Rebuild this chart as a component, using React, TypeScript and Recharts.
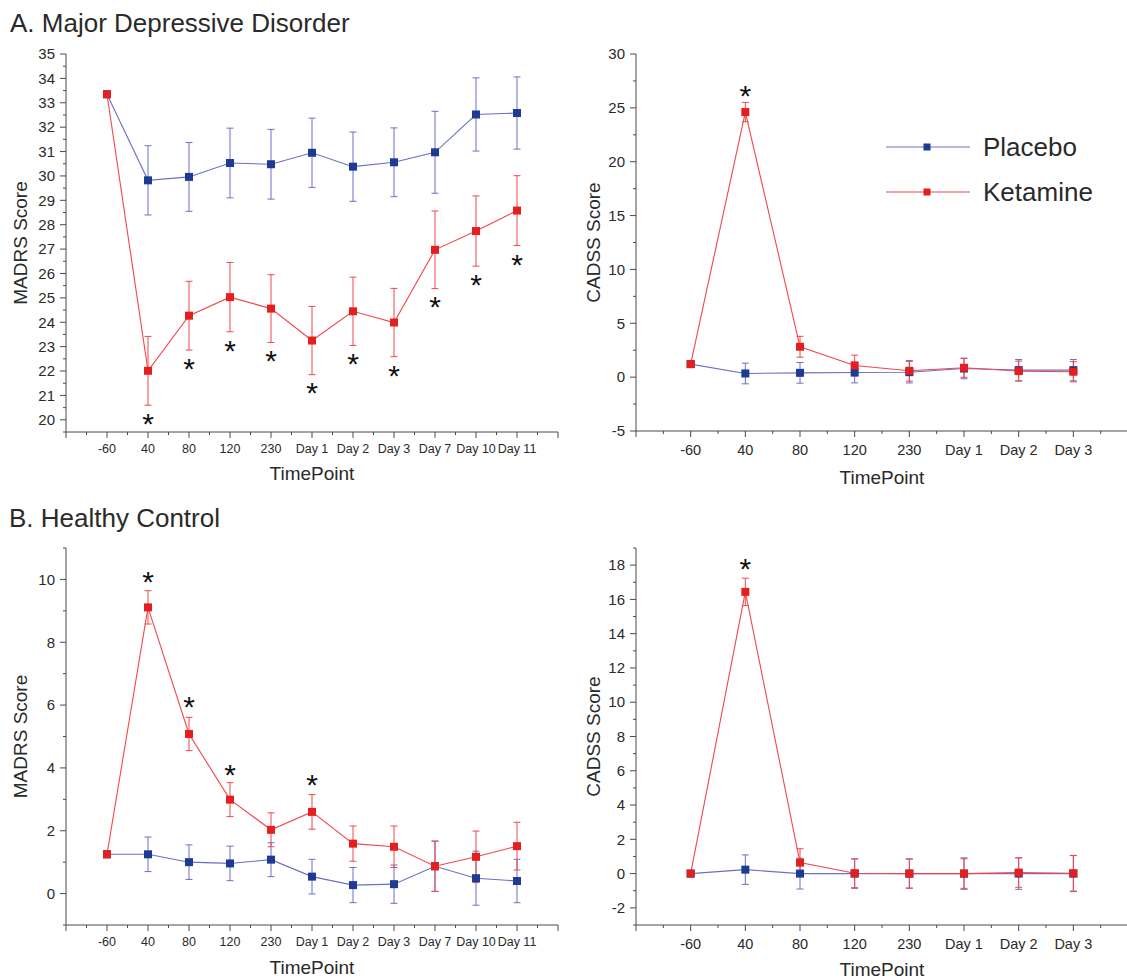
import React from 'react'
import { LineChart, Line, XAxis, YAxis, ErrorBar, Legend } from 'recharts'

const FONT = '"Liberation Sans", Arial, Helvetica, sans-serif'
const AXIS = '#4a4a4a'
const TEXT = '#2a2a2a'
const BLUE_LINE = '#6a70c8'
const BLUE_DOT = '#1f3a92'
const RED_LINE = '#f2474c'
const RED_DOT = '#e3201f'

const TIMEPOINTS_LONG = ['-60', '40', '80', '120', '230', 'Day 1', 'Day 2', 'Day 3', 'Day 7', 'Day 10', 'Day 11']
const TIMEPOINTS_SHORT = ['-60', '40', '80', '120', '230', 'Day 1', 'Day 2', 'Day 3']

// A. Major Depressive Disorder - MADRS
const mddMadrsPlacebo = [33.35, 29.82, 29.96, 30.53, 30.48, 30.95, 30.38, 30.56, 30.97, 32.52, 32.58]
const mddMadrsPlaceboErr = [0, 1.42, 1.41, 1.43, 1.43, 1.42, 1.42, 1.41, 1.68, 1.5, 1.48]
const mddMadrsKetamine = [33.35, 22.01, 24.27, 25.03, 24.56, 23.25, 24.45, 23.99, 26.97, 27.74, 28.58]
const mddMadrsKetamineErr = [0, 1.41, 1.41, 1.42, 1.39, 1.4, 1.4, 1.4, 1.59, 1.44, 1.43]
const mddMadrsStars = [null, 20.12, 22.38, 23.1, 22.7, 21.37, 22.56, 22.08, 24.9, 25.8, 26.64]

// A. Major Depressive Disorder - CADSS
const mddCadssPlacebo = [1.21, 0.34, 0.4, 0.43, 0.46, 0.8, 0.65, 0.65]
const mddCadssPlaceboErr = [0, 0.96, 0.96, 0.96, 1.0, 0.95, 0.99, 0.99]
const mddCadssKetamine = [1.21, 24.61, 2.82, 1.08, 0.59, 0.87, 0.56, 0.5]
const mddCadssKetamineErr = [0, 0.9, 0.97, 0.96, 0.96, 0.88, 0.93, 0.94]
const mddCadssStars = [null, 26.72, null, null, null, null, null, null]

// B. Healthy Control - MADRS
const hcMadrsPlacebo = [1.25, 1.25, 1.0, 0.96, 1.08, 0.54, 0.27, 0.3, 0.87, 0.49, 0.4]
const hcMadrsPlaceboErr = [0, 0.55, 0.55, 0.55, 0.54, 0.55, 0.56, 0.61, 0.8, 0.86, 0.69]
const hcMadrsKetamine = [1.25, 9.11, 5.08, 2.99, 2.03, 2.6, 1.59, 1.49, 0.87, 1.17, 1.51]
const hcMadrsKetamineErr = [0, 0.53, 0.53, 0.54, 0.54, 0.55, 0.56, 0.66, 0.8, 0.82, 0.76]
const hcMadrsStars = [null, 10.14, 6.16, 4.0, null, 3.69, null, null, null, null, null]

// B. Healthy Control - CADSS
const hcCadssPlacebo = [0, 0.23, 0, 0, 0, 0, 0, 0]
const hcCadssPlaceboErr = [0, 0.86, 0.9, 0.86, 0.86, 0.92, 0.92, 1.05]
const hcCadssKetamine = [0, 16.44, 0.64, 0.02, 0, 0, 0.06, 0.02]
const hcCadssKetamineErr = [0, 0.8, 0.81, 0.84, 0.84, 0.86, 0.86, 1.04]
const hcCadssStars = [null, 18.2, null, null, null, null, null, null]

const SERIES = [
  { key: 'placebo', name: 'Placebo', line: BLUE_LINE, dot: BLUE_DOT },
  { key: 'ketamine', name: 'Ketamine', line: RED_LINE, dot: RED_DOT },
]

const steps = (lo: number, hi: number, step: number) => {
  const out: number[] = []
  for (let k = 0; lo + k * step <= hi + 1e-9; k++) out.push(+(lo + k * step).toFixed(4))
  return out
}

const isMult = (v: number, step: number) => Math.abs(v / step - Math.round(v / step)) < 1e-6

function XTick(props: any) {
  const { x, y, payload, labels, fontSize, labelDy } = props
  const v = payload.value
  const major = isMult(v, 1)
  const label = major ? labels[Math.round(v)] : undefined
  return (
    <g>
      <line x1={x} y1={y} x2={x} y2={y + (major ? 6 : 3)} stroke={AXIS} strokeWidth={1} />
      {label !== undefined && (
        <text x={x} y={y + labelDy} textAnchor="middle" fontSize={fontSize} fill={TEXT} fontFamily={FONT}>
          {label}
        </text>
      )}
    </g>
  )
}

function YTick(props: any) {
  const { x, y, payload, major } = props
  const v = payload.value
  const isMajor = isMult(v, major)
  return (
    <g>
      <line x1={x - (isMajor ? 6 : 3)} y1={y} x2={x} y2={y} stroke={AXIS} strokeWidth={1} />
      {isMajor && (
        <text x={x - 11} y={y} dy="0.35em" textAnchor="end" fontSize={15} fill={TEXT} fontFamily={FONT}>
          {v}
        </text>
      )}
    </g>
  )
}

const squareDot = (color: string) => (p: any) => {
  const { cx, cy, index } = p
  if (cx == null || cy == null) return <g key={index} />
  return <rect key={index} x={cx - 4} y={cy - 4} width={8} height={8} fill={color} />
}

const starDot = (p: any) => {
  const { cx, cy, index, value } = p
  if (cy == null || value == null) return <g key={index} />
  return (
    <text key={index} x={cx} y={cy + 17} textAnchor="middle" fontSize={30} fill="#111" fontFamily={FONT}>
      *
    </text>
  )
}

function LegendBox() {
  return (
    <div style={{ fontFamily: FONT }}>
      {SERIES.map(s => (
        <div key={s.key} style={{ display: 'flex', alignItems: 'center', height: 45 }}>
          <svg width={84} height={12}>
            <line x1={0} y1={6} x2={84} y2={6} stroke={s.line} strokeWidth={1.2} />
            <rect x={37.5} y={2.5} width={7} height={7} fill={s.dot} />
          </svg>
          <span style={{ marginLeft: 13, fontSize: 26, color: TEXT, lineHeight: 1 }}>{s.name}</span>
        </div>
      ))}
    </div>
  )
}

interface PanelProps {
  left: number
  top: number
  width: number
  height: number
  margin: { top: number; right: number; bottom: number; left: number }
  xAxisHeight: number
  categories: string[]
  placebo: number[]
  placeboErr: number[]
  ketamine: number[]
  ketamineErr: number[]
  stars: (number | null)[]
  yLabel: string
  yDomain: [number, number]
  yMajor: number
  yMinor: number
  xFont: number
  xLabelDy: number
  xTitleOffset: number
  yTitleOffset: number
  legend?: boolean
}

function Panel(p: PanelProps) {
  const data = p.categories.map((c, i) => ({
    i,
    label: c,
    placebo: p.placebo[i],
    placeboErr: p.placeboErr[i],
    ketamine: p.ketamine[i],
    ketamineErr: p.ketamineErr[i],
    star: p.stars[i],
  }))
  const n = p.categories.length
  return (
    <div style={{ position: 'absolute', left: p.left, top: p.top }}>
      <LineChart width={p.width} height={p.height} data={data} margin={p.margin}>
        <XAxis
          type="number"
          dataKey="i"
          domain={[-1, n]}
          ticks={steps(-1, n, 0.5)}
          allowDataOverflow
          interval={0}
          height={p.xAxisHeight}
          tickSize={0}
          tickMargin={0}
          tickLine={false}
          axisLine={{ stroke: AXIS, strokeWidth: 1 }}
          tick={(t: any) => <XTick {...t} labels={p.categories} fontSize={p.xFont} labelDy={p.xLabelDy} />}
          label={{
            value: 'TimePoint',
            position: 'insideBottom',
            offset: p.xTitleOffset,
            fontSize: 19,
            fill: TEXT,
            fontFamily: FONT,
          }}
        />
        <YAxis
          type="number"
          domain={p.yDomain}
          ticks={steps(p.yDomain[0], p.yDomain[1], p.yMinor)}
          allowDataOverflow
          interval={0}
          width={66}
          tickSize={0}
          tickMargin={0}
          tickLine={false}
          axisLine={{ stroke: AXIS, strokeWidth: 1 }}
          tick={(t: any) => <YTick {...t} major={p.yMajor} />}
          label={{
            value: p.yLabel,
            angle: -90,
            position: 'insideLeft',
            offset: p.yTitleOffset,
            fontSize: 19,
            fill: TEXT,
            fontFamily: FONT,
            style: { textAnchor: 'middle' },
          }}
        />
        {p.legend && (
          <Legend
            layout="vertical"
            align="center"
            verticalAlign="middle"
            wrapperStyle={{ left: 316, top: 124, width: 240 }}
            content={() => <LegendBox />}
          />
        )}
        {SERIES.map(s => (
          <Line
            key={s.key}
            type="linear"
            dataKey={s.key}
            name={s.name}
            stroke={s.line}
            strokeWidth={1.1}
            dot={squareDot(s.dot)}
            activeDot={false}
            isAnimationActive={false}
          >
            <ErrorBar dataKey={`${s.key}Err`} direction="y" width={3.5} stroke={s.line} strokeWidth={1} />
          </Line>
        ))}
        <Line
          dataKey="star"
          stroke="none"
          legendType="none"
          dot={starDot}
          activeDot={false}
          isAnimationActive={false}
        />
      </LineChart>
    </div>
  )
}

export default function App() {
  return (
    <div
      style={{
        position: 'absolute',
        left: 0,
        top: 0,
        width: 1127,
        height: 980,
        overflow: 'hidden',
        background: '#fff',
        fontFamily: FONT,
      }}
    >
      <svg width={1127} height={980} style={{ position: 'absolute', left: 0, top: 0 }}>
        <text x={10} y={32} fontSize={26} fill={TEXT} fontFamily={FONT}>A. Major Depressive Disorder</text>
        <text x={9} y={527} fontSize={26} fill={TEXT} fontFamily={FONT}>B. Healthy Control</text>
      </svg>
      <Panel
        left={0} top={0} width={570} height={500}
        margin={{ top: 54, right: 12, bottom: 8, left: 0 }}
        xAxisHeight={60}
        categories={TIMEPOINTS_LONG}
        placebo={mddMadrsPlacebo} placeboErr={mddMadrsPlaceboErr}
        ketamine={mddMadrsKetamine} ketamineErr={mddMadrsKetamineErr}
        stars={mddMadrsStars}
        yLabel="MADRS Score" yDomain={[19.5, 35]} yMajor={1} yMinor={0.5}
        xFont={12.5} xLabelDy={21} xTitleOffset={12} yTitleOffset={20}
      />
      <Panel
        left={570} top={0} width={560} height={500}
        margin={{ top: 54, right: 2, bottom: 9, left: 0 }}
        xAxisHeight={60}
        categories={TIMEPOINTS_SHORT}
        placebo={mddCadssPlacebo} placeboErr={mddCadssPlaceboErr}
        ketamine={mddCadssKetamine} ketamineErr={mddCadssKetamineErr}
        stars={mddCadssStars}
        yLabel="CADSS Score" yDomain={[-5, 30]} yMajor={5} yMinor={2.5}
        xFont={14.5} xLabelDy={24} xTitleOffset={7} yTitleOffset={23}
        legend
      />
      <Panel
        left={0} top={490} width={570} height={490}
        margin={{ top: 58, right: 12, bottom: 0, left: 0 }}
        xAxisHeight={55}
        categories={TIMEPOINTS_LONG}
        placebo={hcMadrsPlacebo} placeboErr={hcMadrsPlaceboErr}
        ketamine={hcMadrsKetamine} ketamineErr={hcMadrsKetamineErr}
        stars={hcMadrsStars}
        yLabel="MADRS Score" yDomain={[-1, 11]} yMajor={2} yMinor={1}
        xFont={12.5} xLabelDy={21} xTitleOffset={6} yTitleOffset={20}
      />
      <Panel
        left={570} top={490} width={560} height={490}
        margin={{ top: 58, right: 2, bottom: 0, left: 0 }}
        xAxisHeight={55}
        categories={TIMEPOINTS_SHORT}
        placebo={hcCadssPlacebo} placeboErr={hcCadssPlaceboErr}
        ketamine={hcCadssKetamine} ketamineErr={hcCadssKetamineErr}
        stars={hcCadssStars}
        yLabel="CADSS Score" yDomain={[-3, 19]} yMajor={2} yMinor={1}
        xFont={14.5} xLabelDy={23.5} xTitleOffset={4} yTitleOffset={23}
      />
    </div>
  )
}
